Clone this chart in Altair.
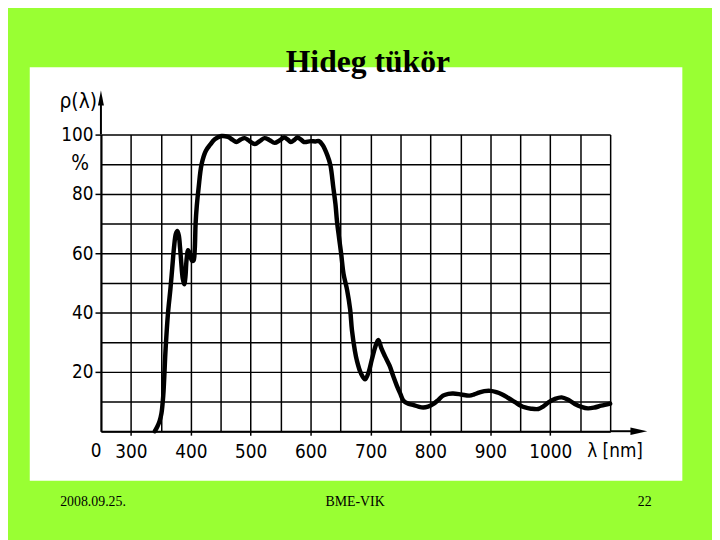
import altair as alt
import pandas as pd

# ---- data -----------------------------------------------------------------
wavelength_nm = [340, 344, 348, 351, 354, 358, 362, 366, 369, 372, 375, 377.5, 380, 382,
                 384, 386.5, 389, 391, 393, 395.5, 398, 400, 402, 404.5, 406.5, 408, 410,
                 413, 418, 425, 432, 440, 451, 462, 470, 476, 483, 490, 498, 507, 515,
                 523, 531, 540, 548, 556, 562, 567, 573, 578, 584, 589, 600, 608, 614,
                 620, 628, 633, 638, 641.5, 644, 647.6, 651, 655, 661, 666, 669, 674, 677, 684,
                 691, 697, 702, 708, 713, 718, 724, 732, 738, 744, 750, 755, 763, 772,
                 780, 788, 796, 805, 813, 821, 830, 838, 851, 865, 873, 881, 890, 900,
                 910, 919, 930, 942, 950, 958, 968, 980, 988, 997, 1008, 1019, 1030,
                 1041, 1052, 1063, 1074, 1085, 1100]
reflectance_pct = [0, 1.5, 3.5, 6, 12, 28, 40, 48, 55, 62, 66.5, 67.5, 66, 62,
                   57, 51.5, 49.5, 52, 58, 61, 60, 58.5, 57.5, 57.5, 61, 70, 76,
                   82, 90, 94.5, 96.5, 98.4, 99.5, 99.2, 98.2, 97.5, 98.3, 98.8, 97.8, 96.8, 97.8,
                   98.8, 98.2, 97.2, 98, 99, 98.3, 97.5, 98.2, 99, 98.3, 97.5, 97.8, 97.7, 97.8,
                   96.5, 93, 89.7, 82, 76.5, 70.8, 65, 59.8, 53, 47.5, 41, 34, 27, 24, 19.5,
                   17.5, 20, 24, 28.5, 30.8, 28, 25.3, 22, 18.5, 15.3, 12.5, 10.3, 9.3, 8.8,
                   8.3, 8, 8.3, 9.2, 10.5, 12, 12.6, 12.7, 12.4, 12, 12.4, 13, 13.5, 13.6,
                   13.2, 12.5, 11.2, 9.7, 8.7, 8, 7.6, 7.5, 8.3, 9.7, 10.9, 11.4, 10.6,
                   9.2, 8.2, 7.7, 8, 8.6, 9.3]

x_grid_values = [250, 300, 350, 400, 450, 500, 550, 600, 650, 700, 750, 800, 850,
                 900, 950, 1000, 1050, 1100]
y_grid_values = [0, 10, 20, 30, 40, 50, 60, 70, 80, 90, 100]

slide_title = "Hideg tükör"
footer_left = "2008.09.25."
footer_center = "BME-VIK"
footer_right = "22"
y_name = "ρ(λ)"
y_unit = "%"
x_name = "λ [nm]"
x_origin_label = "0"

GREEN = "#99FF33"
AX_FONT = "DejaVu Sans Condensed, Liberation Sans"
AX_SIZE = 19
SERIF = "Liberation Serif"

df = pd.DataFrame({"i": list(range(len(wavelength_nm))),
                   "wl": wavelength_nm, "r": reflectance_pct})
one = pd.DataFrame({"a": [0]})

xs = alt.Scale(domain=[250, 1100], nice=False, zero=False)
ys = alt.Scale(domain=[0, 100], nice=False, zero=False)

# white "paper" behind the figure
paper = alt.Chart(one).mark_rect(color="white").encode(
    x=alt.value(-72), x2=alt.value(588), y=alt.value(-68), y2=alt.value(350))

curve = alt.Chart(df).mark_line(
    color="black", strokeWidth=4.5, interpolate="catmull-rom",
    strokeCap="round", strokeJoin="round").encode(
    x=alt.X("wl:Q", scale=xs, axis=alt.Axis(
        values=x_grid_values, format="d", title=None, zindex=1,
        grid=True, gridColor="black", gridWidth=1.5, gridOpacity=1,
        domain=True, domainColor="black", domainWidth=2,
        ticks=True, tickColor="black", tickWidth=1.5, tickSize=4,
        tickOpacity={"condition": {"test": "datum.value % 100 == 0 && datum.value >= 300 && datum.value <= 1000", "value": 1}, "value": 0},
        labelExpr="datum.value % 100 == 0 && datum.value >= 300 && datum.value <= 1000 ? datum.label : ''",
        labelFont=AX_FONT, labelFontSize=AX_SIZE, labelColor="black", labelPadding=8,
        labelFlush=False, labelOverlap=False)),
    y=alt.Y("r:Q", scale=ys, axis=alt.Axis(
        values=y_grid_values, format="d", title=None, zindex=1,
        grid=True, gridColor="black", gridWidth=1.5, gridOpacity=1,
        domain=True, domainColor="black", domainWidth=2,
        ticks=True, tickColor="black", tickWidth=1.5, tickSize=6,
        tickOpacity={"condition": {"test": "datum.value % 20 == 0 && datum.value > 0", "value": 1}, "value": 0},
        labelExpr="datum.value % 20 == 0 && datum.value > 0 ? datum.label : ''",
        labelFont=AX_FONT, labelFontSize=AX_SIZE, labelColor="black", labelPadding=2,
        labelFlush=False, labelOverlap=False)),
    order=alt.Order("i:Q"),
)

# axis extensions with arrow heads
y_ext = alt.Chart(one).mark_rule(color="black", strokeWidth=2).encode(
    x=alt.value(0), y=alt.value(0), y2=alt.value(-38))
y_head = alt.Chart(one).mark_point(
    shape="M0,-1L-0.4,1L0.4,1Z", filled=True, color="black", opacity=1, size=225).encode(
    x=alt.value(0), y=alt.value(-37))
x_ext = alt.Chart(one).mark_rule(color="black", strokeWidth=2).encode(
    x=alt.value(515), x2=alt.value(540), y=alt.value(300))
x_head = alt.Chart(one).mark_point(
    shape="M1,0L-1,-0.45L-1,0.45Z", filled=True, color="black", opacity=1, size=289).encode(
    x=alt.value(544), y=alt.value(300))

def txt(text, x, y, font=AX_FONT, size=AX_SIZE, align="center", baseline="middle", weight="normal"):
    return alt.Chart(one).mark_text(
        text=text, font=font, fontSize=size, align=align, baseline=baseline,
        fontWeight=weight, color="black").encode(x=x, y=y)

labels = [
    txt(x_origin_label, alt.value(-5), alt.value(320)),
    txt(x_name, alt.value(520), alt.value(320)),
    txt(y_unit, alt.value(-12), alt.value(30), align="right", size=21),
    txt(y_name, alt.value(-4), alt.value(-33), align="right", size=21),
    txt(slide_title, alt.value(270), alt.value(-63), font=SERIF, size=32,
        baseline="alphabetic", weight="bold"),
    txt(footer_left, alt.value(-8), alt.value(376), font=SERIF, size=14, baseline="alphabetic"),
    txt(footer_center, alt.value(257), alt.value(376), font=SERIF, size=14, baseline="alphabetic"),
    txt(footer_right, alt.value(550), alt.value(376), font=SERIF, size=14, baseline="alphabetic"),
]

chart = alt.layer(paper, curve, y_ext, y_head, x_ext, x_head, *labels).properties(
    width=515, height=300,
    autosize=alt.AutoSizeParams(type="none"),
    padding={"left": 94, "top": 125, "right": 103, "bottom": 107},
).configure(background=GREEN).configure_view(stroke=None)

chart.save("out.html", embed_options={"renderer": "svg", "actions": False})
